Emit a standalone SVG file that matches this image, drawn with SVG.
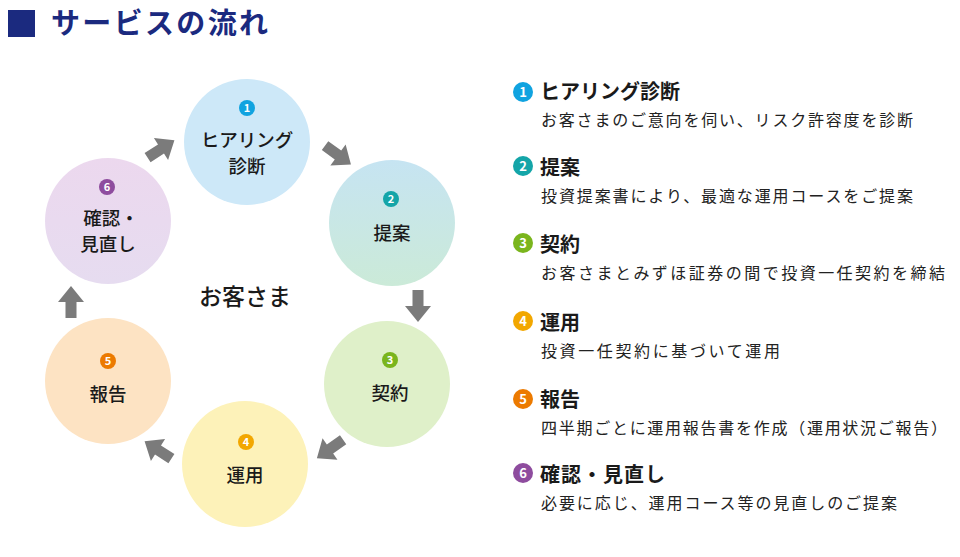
<svg xmlns="http://www.w3.org/2000/svg" width="960" height="557" viewBox="0 0 960 557">
<defs>
<style>
text{font-family:"Noto Sans CJK JP","Noto Sans",sans-serif;}
.title{font-size:29px;font-weight:700;fill:#1b2a7f;}
.lbl{font-size:18.5px;font-weight:500;fill:#1a1a1a;text-anchor:middle;}
.ctr{font-size:23px;font-weight:500;fill:#1a1a1a;text-anchor:middle;}
.num{font-size:11px;font-weight:700;fill:#fff;text-anchor:middle;}
.num2{font-size:13px;font-weight:700;fill:#fff;text-anchor:middle;}
.hd{font-size:20px;font-weight:700;fill:#1a1a1a;}
.ds{font-size:16px;font-weight:400;fill:#222;}
.arrow{fill:#7b7b7b;}
</style>
<linearGradient id="g2" x1="0" y1="0" x2="0" y2="1">
<stop offset="0" stop-color="#c6e4f2"/><stop offset="1" stop-color="#cbead8"/>
</linearGradient>
<linearGradient id="g6" x1="0" y1="0" x2="0" y2="1">
<stop offset="0" stop-color="#ecd8ee"/><stop offset="1" stop-color="#e6dcf0"/>
</linearGradient>
<path id="arr" d="M-16,-5.5 L0,-5.5 L0,-13 L16,0 L0,13 L0,5.5 L-16,5.5 Z"/>
</defs>
<rect width="960" height="557" fill="#fff"/>
<g id="title">
<rect x="8" y="10" width="27" height="27" fill="#1b2a7f"/>
<text class="title" x="51" y="34" textLength="217" lengthAdjust="spacing">サービスの流れ</text>
</g>
<g id="n1">
<circle cx="247" cy="142" r="63" fill="#cde8f8"/>
<circle cx="247" cy="108" r="8" fill="#10a3e0"/>
<text class="num" x="247" y="112">1</text>
<text class="lbl" x="247" y="147">ヒアリング</text>
<text class="lbl" x="247" y="173">診断</text>
</g>
<g id="n2">
<circle cx="392" cy="223" r="63" fill="url(#g2)"/>
<circle cx="391" cy="199" r="8" fill="#14a5a8"/>
<text class="num" x="391" y="203">2</text>
<text class="lbl" x="392" y="240">提案</text>
</g>
<g id="n3">
<circle cx="387" cy="384" r="63" fill="#dff0c9"/>
<circle cx="390" cy="360" r="8" fill="#7ab51d"/>
<text class="num" x="390" y="364">3</text>
<text class="lbl" x="390" y="400">契約</text>
</g>
<g id="n4">
<circle cx="245" cy="464" r="63" fill="#fdf2b9"/>
<circle cx="246" cy="442" r="8" fill="#f2a700"/>
<text class="num" x="246" y="446">4</text>
<text class="lbl" x="245" y="482">運用</text>
</g>
<g id="n5">
<circle cx="108" cy="381" r="63" fill="#fde3c3"/>
<circle cx="108" cy="361" r="8" fill="#ec7a00"/>
<text class="num" x="108" y="365">5</text>
<text class="lbl" x="108" y="401">報告</text>
</g>
<g id="n6">
<circle cx="108" cy="221" r="63" fill="url(#g6)"/>
<circle cx="107" cy="187" r="8" fill="#8e4c9e"/>
<text class="num" x="107" y="191">6</text>
<text class="lbl" x="111" y="225">確認・</text>
<text class="lbl" x="108" y="251">見直し</text>
</g>
<g id="center">
<text class="ctr" x="245" y="305">お客さま</text>
</g>
<g id="connectors">
<use href="#arr" class="arrow" transform="translate(161,149) rotate(-33)"/>
<use href="#arr" class="arrow" transform="translate(338,155) rotate(36)"/>
<use href="#arr" class="arrow" transform="translate(418,306) rotate(90)"/>
<use href="#arr" class="arrow" transform="translate(330,449) rotate(145)"/>
<use href="#arr" class="arrow" transform="translate(158,450) rotate(213)"/>
<use href="#arr" class="arrow" transform="translate(71,302) rotate(-90)"/>
</g>
<g id="list1">
<circle cx="523" cy="92" r="10" fill="#10a3e0"/>
<text class="num2" x="523" y="97">1</text>
<text class="hd" x="540" y="99" textLength="140" lengthAdjust="spacing">ヒアリング診断</text>
<text class="ds" x="541" y="126" textLength="372" lengthAdjust="spacing">お客さまのご意向を伺い、リスク許容度を診断</text>
</g>
<g id="list2">
<circle cx="523" cy="166" r="10" fill="#14a5a8"/>
<text class="num2" x="523" y="171">2</text>
<text class="hd" x="540" y="175">提案</text>
<text class="ds" x="541" y="202" textLength="372" lengthAdjust="spacing">投資提案書により、最適な運用コースをご提案</text>
</g>
<g id="list3">
<circle cx="523" cy="243" r="10" fill="#7ab51d"/>
<text class="num2" x="523" y="248">3</text>
<text class="hd" x="540" y="252">契約</text>
<text class="ds" x="541" y="279" textLength="404" lengthAdjust="spacing">お客さまとみずほ証券の間で投資一任契約を締結</text>
</g>
<g id="list4">
<circle cx="523" cy="321" r="10" fill="#f2a700"/>
<text class="num2" x="523" y="326">4</text>
<text class="hd" x="540" y="330">運用</text>
<text class="ds" x="541" y="357" textLength="239" lengthAdjust="spacing">投資一任契約に基づいて運用</text>
</g>
<g id="list5">
<circle cx="523" cy="399" r="10" fill="#ec7a00"/>
<text class="num2" x="523" y="404">5</text>
<text class="hd" x="540" y="407">報告</text>
<text class="ds" x="541" y="434" textLength="406" lengthAdjust="spacing">四半期ごとに運用報告書を作成（運用状況ご報告）</text>
</g>
<g id="list6">
<circle cx="523" cy="473" r="10" fill="#8e4c9e"/>
<text class="num2" x="523" y="478">6</text>
<text class="hd" x="540" y="482" textLength="125" lengthAdjust="spacing">確認・見直し</text>
<text class="ds" x="541" y="509" textLength="356" lengthAdjust="spacing">必要に応じ、運用コース等の見直しのご提案</text>
</g>
</svg>
